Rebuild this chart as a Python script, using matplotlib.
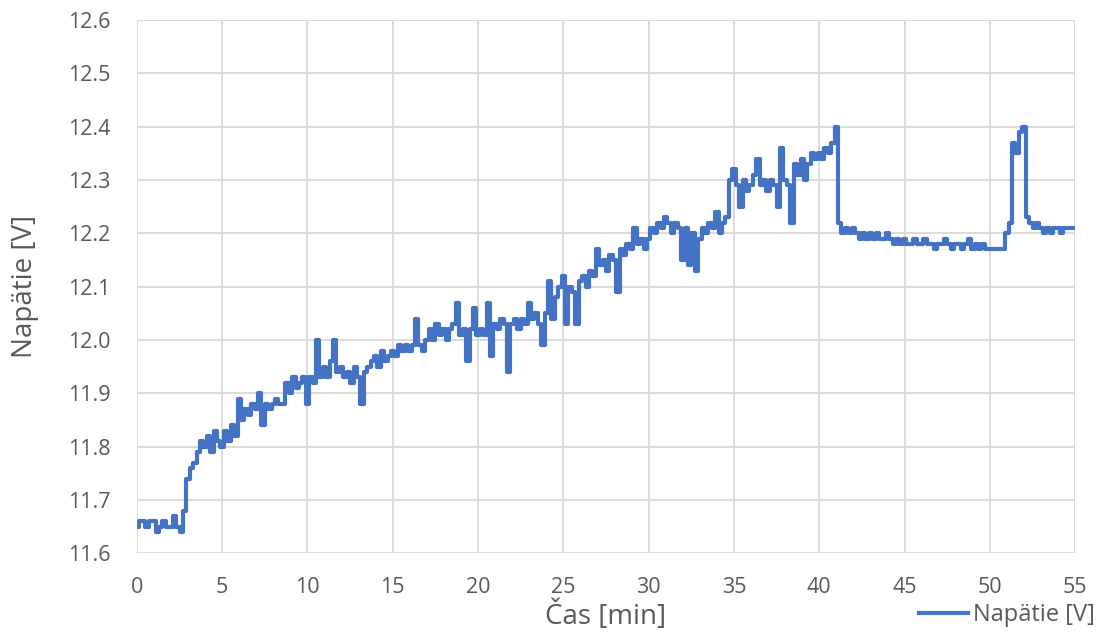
import matplotlib
matplotlib.use("Agg")
import matplotlib.pyplot as plt
import numpy as np

# voltage samples, one every 0.2 min (0 .. 55 min)
napatie = [
    11.65, 11.66, 11.66, 11.65, 11.66, 11.66, 11.64, 11.65, 11.66, 11.65,
    11.65, 11.67, 11.65, 11.64, 11.68, 11.74, 11.76, 11.77, 11.79, 11.81,
    11.80, 11.82, 11.79, 11.83, 11.81, 11.80, 11.83, 11.81, 11.84, 11.82,
    11.89, 11.85, 11.87, 11.86, 11.88, 11.87, 11.90, 11.84, 11.88, 11.87,
    11.88, 11.89, 11.88, 11.88, 11.92, 11.90, 11.93, 11.91, 11.92, 11.93,
    11.88, 11.93, 11.92, 12.00, 11.93, 11.95, 11.93, 11.96, 12.00, 11.94,
    11.95, 11.93, 11.94, 11.92, 11.95, 11.93, 11.88, 11.94, 11.95, 11.96,
    11.97, 11.95, 11.98, 11.96, 11.97, 11.98, 11.97, 11.99, 11.98, 11.99,
    11.98, 11.99, 12.04, 11.99, 11.98, 12.00, 12.02, 12.00, 12.03, 12.01,
    12.02, 12.00, 12.02, 12.03, 12.07, 12.01, 12.02, 11.96, 12.02, 12.06,
    12.01, 12.02, 12.01, 12.07, 11.97, 12.03, 12.02, 12.04, 12.03, 11.94,
    12.03, 12.04, 12.02, 12.04, 12.03, 12.07, 12.04, 12.05, 12.03, 11.99,
    12.05, 12.11, 12.04, 12.08, 12.10, 12.12, 12.03, 12.10, 12.09, 12.03,
    12.11, 12.12, 12.10, 12.13, 12.12, 12.17, 12.14, 12.15, 12.13, 12.16,
    12.15, 12.09, 12.17, 12.16, 12.18, 12.17, 12.21, 12.18, 12.19, 12.17,
    12.19, 12.21, 12.20, 12.22, 12.21, 12.23, 12.22, 12.20, 12.22, 12.21,
    12.15, 12.21, 12.14, 12.20, 12.13, 12.19, 12.21, 12.20, 12.22, 12.21,
    12.24, 12.20, 12.22, 12.23, 12.30, 12.32, 12.29, 12.25, 12.30, 12.28,
    12.29, 12.31, 12.34, 12.29, 12.30, 12.28, 12.30, 12.29, 12.25, 12.36,
    12.30, 12.29, 12.22, 12.33, 12.31, 12.34, 12.30, 12.33, 12.35, 12.34,
    12.35, 12.34, 12.36, 12.35, 12.37, 12.40, 12.22, 12.20, 12.21, 12.20,
    12.21, 12.20, 12.19, 12.20, 12.19, 12.20, 12.19, 12.20, 12.19, 12.19,
    12.20, 12.19, 12.18, 12.19, 12.18, 12.19, 12.18, 12.18, 12.19, 12.18,
    12.18, 12.19, 12.18, 12.18, 12.17, 12.18, 12.18, 12.19, 12.18, 12.17,
    12.18, 12.18, 12.17, 12.18, 12.19, 12.17, 12.18, 12.17, 12.18, 12.17,
    12.17, 12.17, 12.17, 12.17, 12.17, 12.20, 12.22, 12.37, 12.35, 12.39,
    12.40, 12.23, 12.22, 12.21, 12.22, 12.21, 12.20, 12.21, 12.20, 12.21,
    12.21, 12.20, 12.21, 12.21, 12.21, 12.21,
]
cas = np.round(np.arange(len(napatie)) * 0.2, 1)

x_ticks = [0, 5, 10, 15, 20, 25, 30, 35, 40, 45, 50, 55]
y_ticks = [11.6, 11.7, 11.8, 11.9, 12.0, 12.1, 12.2, 12.3, 12.4, 12.5, 12.6]

plt.rcParams['font.family'] = ['Open Sans', 'DejaVu Sans']

fig = plt.figure(figsize=(11.13, 6.41), dpi=100)
ax = fig.add_axes([0.123, 0.137, 0.843, 0.832])

ax.plot(cas, napatie, color='#4472C4', linewidth=3.0, drawstyle='steps-mid',
        label='Napätie [V]')

ax.set_xlim(0, 55)
ax.set_ylim(11.6, 12.6)
ax.set_xticks(x_ticks)
ax.set_yticks(y_ticks)
ax.set_yticklabels(["{:.1f}".format(v) for v in y_ticks])
ax.tick_params(axis='both', length=0, labelsize=15.5, labelcolor='#595959')
ax.tick_params(axis='y', pad=19)
ax.tick_params(axis='x', pad=17)
ax.grid(color='#D9D9D9', linewidth=1.3)
ax.set_axisbelow(True)
for s in ax.spines.values():
    s.set_visible(False)

ax.set_xlabel('Čas [min]', fontsize=20, color='#595959', labelpad=2)
ax.set_ylabel('Napätie [V]', fontsize=20, color='#595959', labelpad=21)

fig.legend(loc='lower right', bbox_to_anchor=(1.003, -0.012), frameon=False,
           fontsize=17, labelcolor='#595959', handlelength=2.1, handletextpad=0.2)

fig.savefig('out.png', dpi=100)
